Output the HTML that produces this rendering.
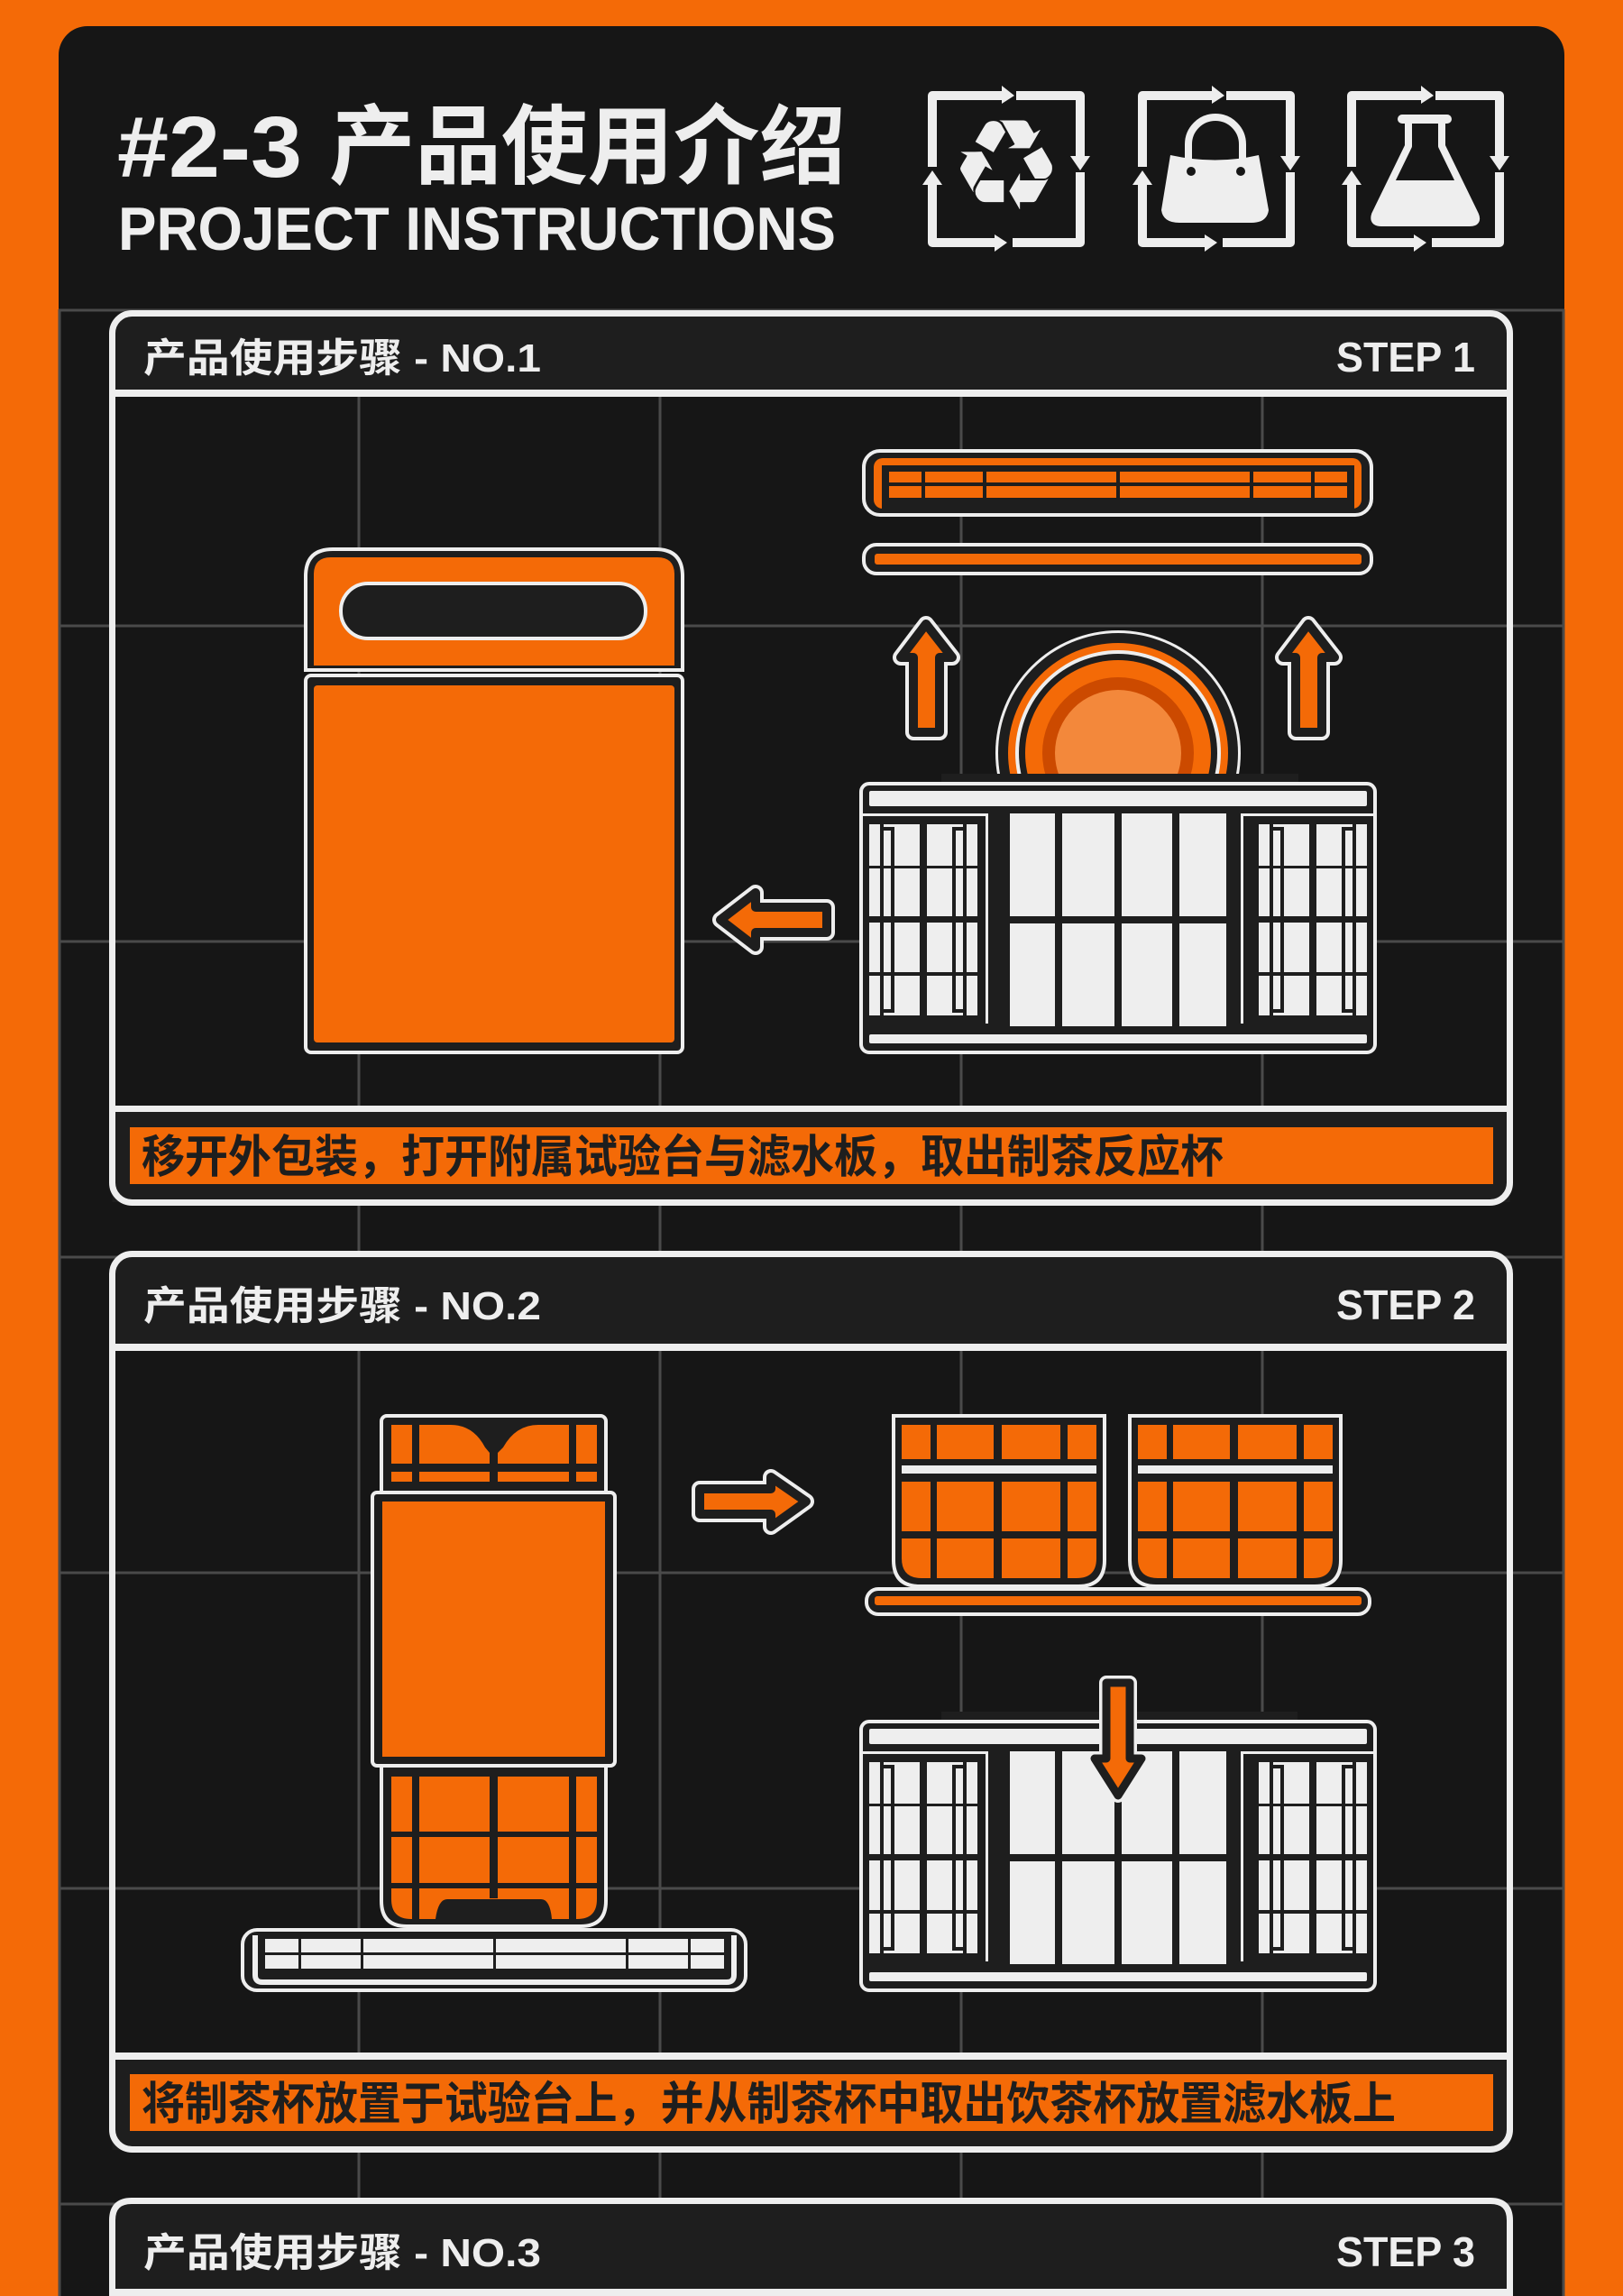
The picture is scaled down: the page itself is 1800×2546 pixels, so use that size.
<!DOCTYPE html>
<html><head><meta charset="utf-8"><style>
html,body{margin:0;padding:0;background:#f46a07;}
svg{display:block}
.cj{font-family:"Liberation Sans","Noto Sans CJK SC",sans-serif;font-weight:700}
</style></head><body>
<svg width="1800" height="2546" viewBox="0 0 1800 2546" xmlns="http://www.w3.org/2000/svg">
<defs>
<g id="tbl">
 <rect x="955" y="869" width="570" height="298" rx="9" fill="#1e1e1e" stroke="#eee" stroke-width="4"/>
 <rect x="964" y="877" width="552" height="17" rx="2" fill="#eee"/>
 <rect x="964" y="1147" width="552" height="10" rx="2" fill="#eee"/>
 <path d="M955 903.5 H1094.5 V1135" fill="none" stroke="#eee" stroke-width="3"/>
 <rect x="964" y="914" width="120" height="212" fill="#eee"/>
 <g fill="#1e1e1e">
  <rect x="976" y="914" width="4" height="212"/><rect x="1020" y="914" width="8" height="212"/><rect x="1068" y="914" width="4" height="212"/>
  <rect x="988" y="917" width="4" height="206"/><rect x="1056" y="917" width="4" height="206"/>
  <rect x="980" y="917" width="12" height="4"/><rect x="980" y="1119" width="12" height="4"/>
  <rect x="1056" y="917" width="12" height="4"/><rect x="1056" y="1119" width="12" height="4"/>
  <rect x="964" y="960" width="120" height="3"/><rect x="964" y="1016" width="120" height="7"/><rect x="964" y="1078" width="120" height="4"/>
 </g>
 <rect x="1120" y="902" width="240" height="236" fill="#eee"/>
 <g fill="#1e1e1e">
  <rect x="1170" y="902" width="8" height="236"/><rect x="1236" y="902" width="8" height="236"/><rect x="1300" y="902" width="8" height="236"/>
  <rect x="1120" y="1016" width="240" height="8"/>
 </g>
 <path d="M1525 903.5 H1377.5 V1135" fill="none" stroke="#eee" stroke-width="3"/>
 <rect x="1396" y="914" width="120" height="212" fill="#eee"/>
 <g fill="#1e1e1e">
  <rect x="1408" y="914" width="4" height="212"/><rect x="1452" y="914" width="8" height="212"/><rect x="1500" y="914" width="4" height="212"/>
  <rect x="1420" y="917" width="4" height="206"/><rect x="1488" y="917" width="4" height="206"/>
  <rect x="1412" y="917" width="12" height="4"/><rect x="1412" y="1119" width="12" height="4"/>
  <rect x="1488" y="917" width="12" height="4"/><rect x="1488" y="1119" width="12" height="4"/>
  <rect x="1396" y="960" width="120" height="3"/><rect x="1396" y="1016" width="120" height="7"/><rect x="1396" y="1078" width="120" height="4"/>
 </g>
</g>
<g id="cup">
 <path d="M991 1570 H1225 V1730 Q1225 1759 1196 1759 H1020 Q991 1759 991 1730 Z" fill="#1e1e1e" stroke="#eee" stroke-width="4"/>
 <path d="M1000 1580 H1216 V1728 Q1216 1750 1194 1750 H1022 Q1000 1750 1000 1728 Z" fill="#f46a07"/>
 <g fill="#1e1e1e">
  <rect x="1000" y="1618" width="216" height="25"/>
  <rect x="1000" y="1698" width="216" height="8"/>
  <rect x="1032" y="1580" width="7" height="170"/><rect x="1102" y="1580" width="9" height="170"/><rect x="1176" y="1580" width="8" height="170"/>
 </g>
 <rect x="1000" y="1625" width="216" height="9" fill="#eee"/>
</g>
<g id="icof">
 <path d="M86 5 H5 V84 M5 98 V168 H80 M98 5 H169 V78 M169 90 V168 H94" fill="none" stroke="#eee" stroke-width="10" stroke-linejoin="round"/>
 <path d="M82 -6 L96 5 L82 14 Z M74 159 L88 168 L74 178 Z M158 72 L169 88 L180 72 Z M-6 104 L5 88 L16 104 Z" fill="#eee"/>
</g>
</defs>

<rect x="65" y="29" width="1670" height="2600" rx="32" fill="#161616"/>
<rect x="65" y="343" width="1670" height="2210" fill="#161616"/>
<g stroke="#4a4a4a" stroke-width="3">
 <line x1="66" y1="343" x2="66" y2="2546"/><line x1="1734" y1="343" x2="1734" y2="2546"/>
 <line x1="398" y1="343" x2="398" y2="2546"/><line x1="732" y1="343" x2="732" y2="2546"/>
 <line x1="1066" y1="343" x2="1066" y2="2546"/><line x1="1400" y1="343" x2="1400" y2="2546"/>
 <line x1="65" y1="344" x2="1735" y2="344"/><line x1="65" y1="694" x2="1735" y2="694"/>
 <line x1="65" y1="1044" x2="1735" y2="1044"/><line x1="65" y1="1394" x2="1735" y2="1394"/>
 <line x1="65" y1="1744" x2="1735" y2="1744"/><line x1="65" y1="2094" x2="1735" y2="2094"/>
 <line x1="65" y1="2444" x2="1735" y2="2444"/>
</g>

<text x="130" y="196" class="cj" font-size="96" fill="#eee" textLength="205" lengthAdjust="spacingAndGlyphs">#2-3</text>
<text x="365" y="196" class="cj" font-size="96" fill="#eee" textLength="573" lengthAdjust="spacingAndGlyphs">产品使用介绍</text>
<text x="131" y="277" class="cj" font-size="68" fill="#eee" textLength="796" lengthAdjust="spacingAndGlyphs">PROJECT INSTRUCTIONS</text>

<use href="#icof" transform="translate(1029,101)"/>
<use href="#icof" transform="translate(1262,101)"/>
<use href="#icof" transform="translate(1494,101)"/>
<text x="1116" y="232" font-family="DejaVu Sans,sans-serif" font-size="140" fill="#eee" text-anchor="middle">♻</text>
<path d="M1318 176 V160 A30 30 0 0 1 1378 160 V176" fill="none" stroke="#eee" stroke-width="8"/>
<path d="M1298 172 Q1348 183 1396 172 L1407 233 Q1405 247 1388 247 H1308 Q1290 247 1288 233 Z" fill="#eee"/>
<circle cx="1321" cy="190" r="5" fill="#161616"/><circle cx="1376" cy="190" r="5" fill="#161616"/>
<rect x="1550" y="127" width="60" height="10" rx="5" fill="#eee"/>
<path d="M1562 137 V162 L1525 238 Q1522 247 1532 247 H1630 Q1640 247 1636 238 L1599 162 V137" fill="none" stroke="#eee" stroke-width="8" stroke-linejoin="round"/>
<path d="M1546 200 H1614 L1636 238 Q1640 247 1630 247 H1532 Q1522 247 1525 238 Z" fill="#eee"/>

<path d="M124.5 369 Q124.5 347.5 146 347.5 H1653 Q1674.5 347.5 1674.5 369 V436 H124.5 Z" fill="#1e1e1e"/>
<rect x="124.5" y="1229" width="1550" height="104" fill="#1e1e1e"/>
<rect x="124.5" y="347.5" width="1550" height="986" rx="22" fill="none" stroke="#eee" stroke-width="7"/>
<rect x="124" y="432" width="1551" height="8" fill="#eee"/>
<rect x="124" y="1226" width="1551" height="7" fill="#eee"/>
<text x="159" y="412" class="cj" font-size="44" fill="#eee" textLength="441" lengthAdjust="spacingAndGlyphs">产品使用步骤 - NO.1</text>
<text x="1482" y="412" class="cj" font-size="46" fill="#eee" textLength="154" lengthAdjust="spacingAndGlyphs">STEP 1</text>
<rect x="144" y="1250" width="1512" height="63" fill="#f46a07"/>
<text x="157" y="1300" class="cj" font-size="50" fill="#1e1e1e" textLength="1200" lengthAdjust="spacingAndGlyphs">移开外包装，打开附属试验台与滤水板，取出制茶反应杯</text>

<path d="M339 743 V639 Q339 609 369 609 H727 Q757 609 757 639 V743 Z" fill="#1e1e1e" stroke="#eee" stroke-width="4"/>
<path d="M348 738 V637 Q348 618 367 618 H729 Q748 618 748 637 V738 Z" fill="#f46a07"/>
<rect x="378" y="647" width="338" height="61" rx="30" fill="#1e1e1e" stroke="#eee" stroke-width="4"/>
<rect x="339" y="749" width="418" height="418" rx="6" fill="#1e1e1e" stroke="#eee" stroke-width="4"/>
<rect x="348" y="760" width="400" height="396" rx="4" fill="#f46a07"/>

<g stroke-linejoin="round">
 <polygon points="799,1020 838,990 838,1006 917,1006 917,1034 838,1034 838,1050" fill="none" stroke="#eee" stroke-width="18"/>
 <polygon points="799,1020 838,990 838,1006 917,1006 917,1034 838,1034 838,1050" fill="#f46a07" stroke="#1e1e1e" stroke-width="10"/>
</g>

<rect x="958" y="500" width="563" height="71" rx="18" fill="#1e1e1e" stroke="#eee" stroke-width="4"/>
<rect x="969" y="508" width="541" height="56" rx="10" fill="#f46a07"/>
<rect x="978" y="516" width="524" height="48" fill="#1e1e1e"/>
<rect x="986" y="523" width="508" height="29" fill="#f46a07"/>
<g fill="#1e1e1e">
 <rect x="986" y="535" width="508" height="4"/>
 <rect x="1022" y="523" width="4" height="29"/><rect x="1090" y="523" width="4" height="29"/>
 <rect x="1238" y="523" width="4" height="29"/><rect x="1386" y="523" width="4" height="29"/><rect x="1454" y="523" width="4" height="29"/>
</g>
<rect x="958" y="604" width="563" height="32" rx="14" fill="#1e1e1e" stroke="#eee" stroke-width="4"/>
<rect x="970" y="614" width="540" height="12" rx="3" fill="#f46a07"/>

<g stroke-linejoin="round">
 <polygon points="1027,692 1056,729 1042,729 1042,812 1013,812 1013,729 999,729" fill="none" stroke="#eee" stroke-width="18"/>
 <polygon points="1027,692 1056,729 1042,729 1042,812 1013,812 1013,729 999,729" fill="#f46a07" stroke="#1e1e1e" stroke-width="10"/>
 <polygon points="1451,692 1480,729 1466,729 1466,812 1437,812 1437,729 1423,729" fill="none" stroke="#eee" stroke-width="18"/>
 <polygon points="1451,692 1480,729 1466,729 1466,812 1437,812 1437,729 1423,729" fill="#f46a07" stroke="#1e1e1e" stroke-width="10"/>
</g>

<clipPath id="cc"><rect x="1000" y="650" width="500" height="208"/></clipPath>
<g clip-path="url(#cc)">
 <circle cx="1240" cy="835" r="136" fill="#eee"/>
 <circle cx="1240" cy="835" r="133" fill="#1e1e1e"/>
 <circle cx="1240" cy="835" r="122" fill="#f46a07"/>
 <circle cx="1240" cy="835" r="114" fill="#eee"/>
 <circle cx="1240" cy="835" r="110" fill="#1e1e1e"/>
 <circle cx="1240" cy="835" r="103" fill="#f46a07"/>
 <circle cx="1240" cy="835" r="84" fill="#cc4a00"/>
 <circle cx="1240" cy="835" r="70" fill="#f3883b"/>
</g>
<rect x="1044" y="858" width="396" height="9" fill="#1e1e1e"/>
<use href="#tbl"/>

<path d="M124.5 1412 Q124.5 1390.5 146 1390.5 H1653 Q1674.5 1390.5 1674.5 1412 V1494 H124.5 Z" fill="#1e1e1e"/>
<rect x="124.5" y="2280" width="1550" height="104" fill="#1e1e1e"/>
<rect x="124.5" y="1390.5" width="1550" height="993" rx="22" fill="none" stroke="#eee" stroke-width="7"/>
<rect x="124" y="1490" width="1551" height="8" fill="#eee"/>
<rect x="124" y="2276" width="1551" height="8" fill="#eee"/>
<text x="159" y="1463" class="cj" font-size="44" fill="#eee" textLength="441" lengthAdjust="spacingAndGlyphs">产品使用步骤 - NO.2</text>
<text x="1482" y="1463" class="cj" font-size="46" fill="#eee" textLength="154" lengthAdjust="spacingAndGlyphs">STEP 2</text>
<rect x="144" y="2300" width="1512" height="63" fill="#f46a07"/>
<text x="157" y="2350" class="cj" font-size="50" fill="#1e1e1e" textLength="1391" lengthAdjust="spacingAndGlyphs">将制茶杯放置于试验台上，并从制茶杯中取出饮茶杯放置滤水板上</text>

<rect x="423" y="1570" width="249" height="90" rx="6" fill="#1e1e1e" stroke="#eee" stroke-width="4"/>
<path d="M434 1580 H500 Q525 1580 538 1605 L543 1611 H552 L558 1605 Q572 1580 597 1580 H662 V1653 H434 Z" fill="#f46a07"/>
<g fill="#1e1e1e">
 <rect x="457" y="1580" width="8" height="73"/><rect x="543" y="1605" width="9" height="48"/><rect x="631" y="1580" width="8" height="73"/>
 <rect x="434" y="1623" width="228" height="9"/><rect x="434" y="1643" width="228" height="12"/>
</g>
<path d="M423 1955 H672 V2108 Q672 2136 644 2136 H451 Q423 2136 423 2108 Z" fill="#1e1e1e" stroke="#eee" stroke-width="4"/>
<path d="M434 1970 H662 V2106 Q662 2128 640 2128 H456 Q434 2128 434 2106 Z" fill="#f46a07"/>
<g fill="#1e1e1e">
 <rect x="457" y="1970" width="8" height="158"/><rect x="543" y="1970" width="9" height="135"/><rect x="631" y="1970" width="8" height="158"/>
 <rect x="434" y="2031" width="228" height="6"/><rect x="434" y="2088" width="228" height="6"/>
 <path d="M483 2128 Q486 2106 496 2106 H600 Q610 2106 612 2128 Z"/>
</g>
<rect x="413" y="1655" width="269" height="303" rx="5" fill="#1e1e1e" stroke="#eee" stroke-width="4"/>
<rect x="424" y="1665" width="247" height="283" fill="#f46a07"/>
<rect x="269" y="2140" width="558" height="67" rx="16" fill="#1e1e1e" stroke="#eee" stroke-width="4"/>
<path d="M283 2146 V2190 Q283 2198 291 2198 H806 Q814 2198 814 2190 V2146" fill="none" stroke="#eee" stroke-width="6"/>
<rect x="294" y="2150" width="509" height="33" fill="#eee"/>
<g fill="#1e1e1e">
 <rect x="294" y="2165" width="509" height="3"/>
 <rect x="331" y="2150" width="3" height="33"/><rect x="400" y="2150" width="3" height="33"/><rect x="547" y="2150" width="3" height="33"/>
 <rect x="694" y="2150" width="3" height="33"/><rect x="763" y="2150" width="3" height="33"/>
</g>

<g stroke-linejoin="round">
 <polygon points="894,1665 855,1638 855,1651 776,1651 776,1679 855,1679 855,1693" fill="none" stroke="#eee" stroke-width="18"/>
 <polygon points="894,1665 855,1638 855,1651 776,1651 776,1679 855,1679 855,1693" fill="#f46a07" stroke="#1e1e1e" stroke-width="10"/>
</g>

<use href="#cup"/>
<use href="#cup" transform="translate(262,0)"/>
<rect x="961" y="1762" width="558" height="28" rx="13" fill="#1e1e1e" stroke="#eee" stroke-width="4"/>
<rect x="970" y="1770" width="540" height="10" rx="3" fill="#f46a07"/>

<rect x="1044" y="1898" width="395" height="9" fill="#1e1e1e"/>
<use href="#tbl" transform="translate(0,1040)"/>
<g stroke-linejoin="round">
 <polygon points="1227,1866 1253,1866 1253,1950 1266,1950 1240,1991 1214,1950 1227,1950" fill="none" stroke="#eee" stroke-width="16"/>
 <polygon points="1227,1866 1253,1866 1253,1950 1266,1950 1240,1991 1214,1950 1227,1950" fill="#f46a07" stroke="#1e1e1e" stroke-width="9"/>
</g>

<path d="M124.5 2462 Q124.5 2440.5 146 2440.5 H1653 Q1674.5 2440.5 1674.5 2462 V2546 H124.5 Z" fill="#1e1e1e"/>
<path d="M124.5 2560 V2462 Q124.5 2440.5 146 2440.5 H1653 Q1674.5 2440.5 1674.5 2462 V2560" fill="none" stroke="#eee" stroke-width="7"/>
<rect x="124" y="2538" width="1551" height="8" fill="#eee"/>
<text x="159" y="2513" class="cj" font-size="44" fill="#eee" textLength="441" lengthAdjust="spacingAndGlyphs">产品使用步骤 - NO.3</text>
<text x="1482" y="2513" class="cj" font-size="46" fill="#eee" textLength="154" lengthAdjust="spacingAndGlyphs">STEP 3</text>
</svg>
</body></html>
